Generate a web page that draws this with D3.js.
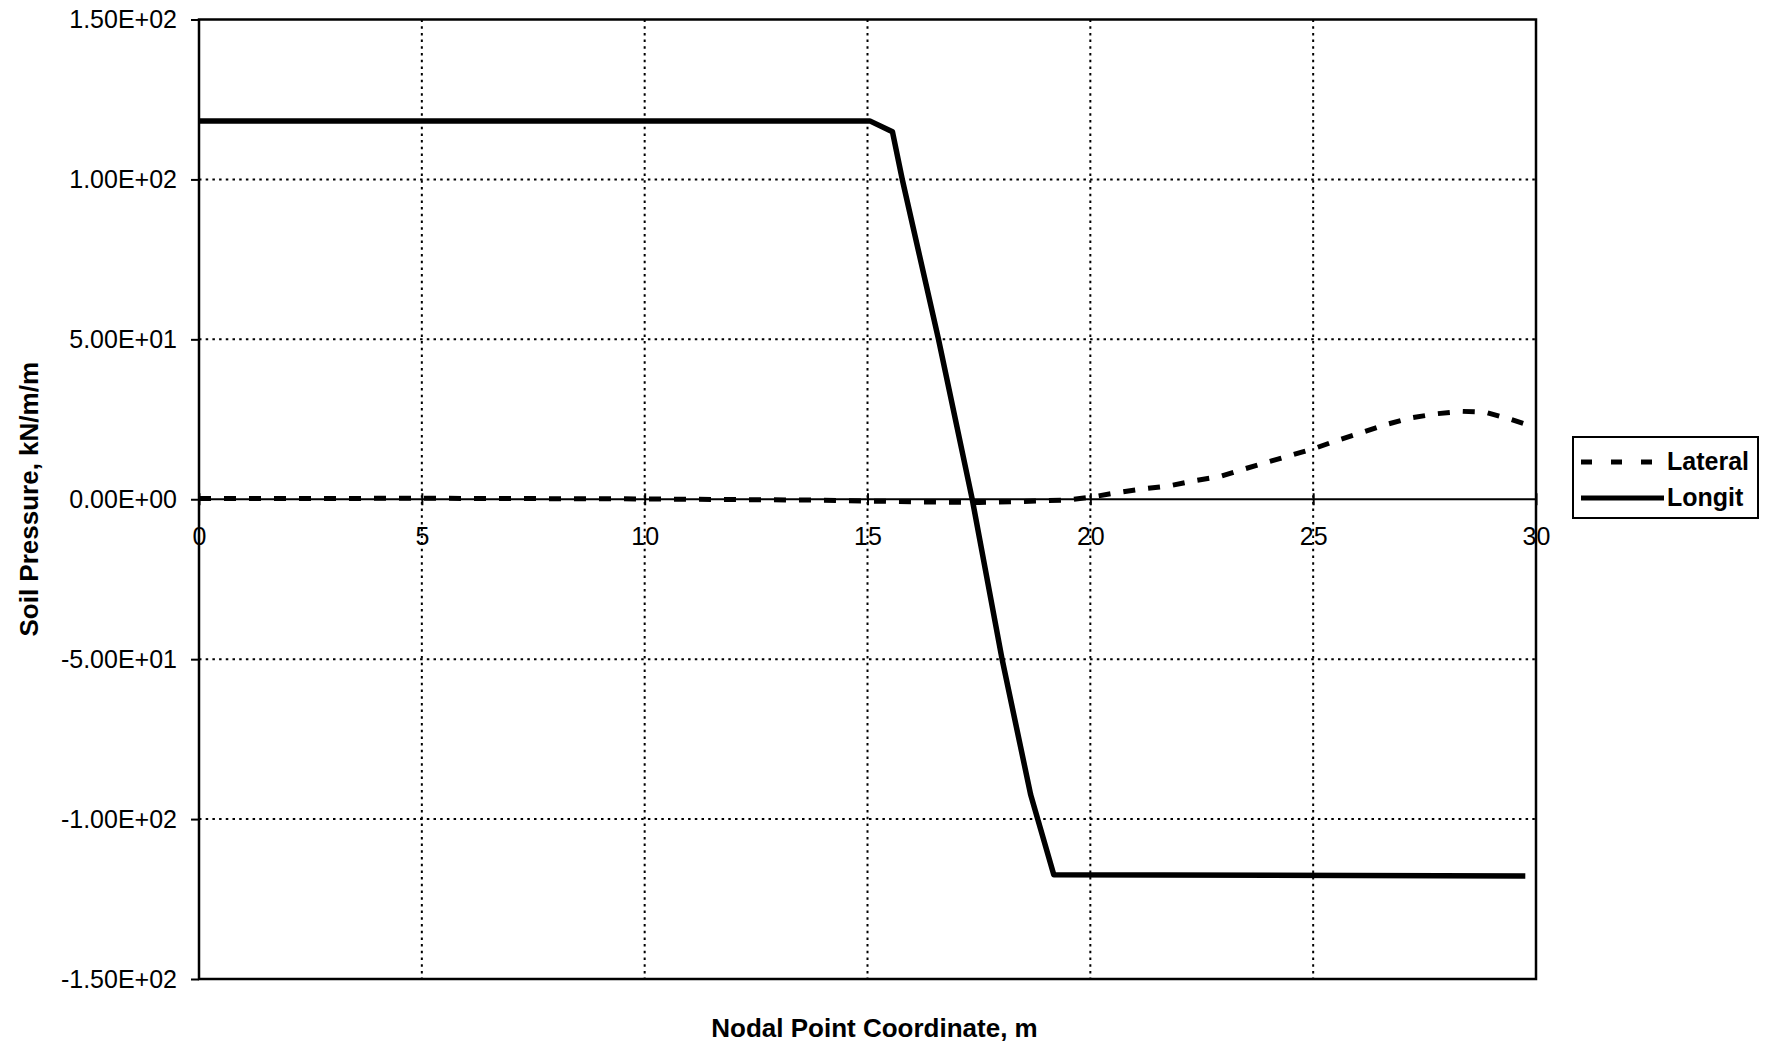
<!DOCTYPE html>
<html>
<head>
<meta charset="utf-8">
<script src="https://cdn.jsdelivr.net/npm/d3@7"></script>
<style>
  body { margin: 0; background: #fff; }
  svg { display: block; font-family: "Liberation Sans", Arial, sans-serif; }
  .grid line { stroke: #000; stroke-width: 2; stroke-dasharray: 2.5 4.2; }
</style>
</head>
<body>
<svg id="chart"></svg>
<script>
// values
const longitX = [0, 15.05, 15.56, 15.78, 16.59, 17.35, 18.02, 18.66, 19.18, 29.76];
const longitY = [118.3, 118.3, 114.9, 100, 50.2, 0, -50, -92.3, -117.4, -117.8];

const lateralX = [0, 5, 10, 14, 16, 17.5, 18.5, 19.5, 20, 20.53, 21.16, 21.78, 22.34, 22.9,
  23.46, 24.0, 24.54, 25.05, 25.56, 26.1, 26.62, 27.18, 27.75, 28.31, 28.87, 29.45, 29.76];
const lateralY = [0.2, 0.3, 0.1, -0.3, -0.8, -1.0, -0.7, -0.2, 0.6, 1.9, 3.2, 4.2, 5.8, 7.1,
  9.5, 11.7, 13.9, 16.0, 18.5, 20.9, 23.3, 25.4, 26.7, 27.5, 27.2, 24.9, 23.5];

const xTicks = [0, 5, 10, 15, 20, 25, 30];
const yTicks = [-150, -100, -50, 0, 50, 100, 150];
const seriesNames = ["Lateral", "Longit"];

const width = 1768, height = 1046;
const svg = d3.select("#chart").attr("width", width).attr("height", height);

const x = d3.scaleLinear().domain([0, 30]).range([199, 1536]);
const y = d3.scaleLinear().domain([-150, 150]).range([979, 19.5]);

// 1.50E+02 style labels
function sci(v) {
  if (v === 0) return "0.00E+00";
  const e = Math.floor(Math.log10(Math.abs(v)));
  const m = v / Math.pow(10, e);
  const es = (e < 0 ? "-" : "+") + String(Math.abs(e)).padStart(2, "0");
  return m.toFixed(2) + "E" + es;
}

// gridlines
const grid = svg.append("g").attr("class", "grid");
grid.selectAll("line.v")
  .data(xTicks.filter(d => d > 0 && d < 30))
  .join("line")
  .attr("x1", d => x(d)).attr("x2", d => x(d))
  .attr("y1", y(150)).attr("y2", y(-150));
grid.selectAll("line.h")
  .data(yTicks.filter(d => d !== 0 && Math.abs(d) < 150))
  .join("line")
  .attr("x1", x(0)).attr("x2", x(30))
  .attr("y1", d => y(d)).attr("y2", d => y(d));

// y axis
const yAxis = svg.append("g")
  .attr("transform", `translate(${x(0)},0)`)
  .call(d3.axisLeft(y).tickValues(yTicks).tickFormat(sci).tickSize(8).tickPadding(14));
yAxis.select(".domain").remove();
yAxis.selectAll("line").attr("stroke", "#000").attr("stroke-width", 2);
yAxis.selectAll("text").attr("font-size", 25).attr("fill", "#000")
  .attr("font-family", "Liberation Sans, Arial, sans-serif");

// x axis through zero
const xAxis = svg.append("g")
  .attr("transform", `translate(0,${y(0)})`)
  .call(d3.axisBottom(x).tickValues(xTicks).tickSize(6).tickPadding(22));
xAxis.select(".domain").remove();
xAxis.selectAll("line").attr("stroke", "#000").attr("stroke-width", 2).attr("y1", -6);
xAxis.selectAll("text").attr("font-size", 25).attr("fill", "#000")
  .attr("font-family", "Liberation Sans, Arial, sans-serif");

svg.append("line")
  .attr("x1", x(0)).attr("x2", x(30))
  .attr("y1", y(0)).attr("y2", y(0))
  .attr("stroke", "#000").attr("stroke-width", 2);

// plot frame
svg.append("rect")
  .attr("x", x(0)).attr("y", y(150))
  .attr("width", x(30) - x(0)).attr("height", y(-150) - y(150))
  .attr("fill", "none").attr("stroke", "#000").attr("stroke-width", 2.5);

// series
const line = d3.line().x(d => x(d[0])).y(d => y(d[1]));

svg.append("path")
  .datum(lateralX.map((v, i) => [v, lateralY[i]]))
  .attr("d", line)
  .attr("fill", "none").attr("stroke", "#000")
  .attr("stroke-width", 5).attr("stroke-dasharray", "12 13");

svg.append("path")
  .datum(longitX.map((v, i) => [v, longitY[i]]))
  .attr("d", line)
  .attr("fill", "none").attr("stroke", "#000")
  .attr("stroke-width", 5.5).attr("stroke-linejoin", "round");

// axis titles
svg.append("text")
  .attr("x", (x(0) + x(30)) / 2 + 7).attr("y", 1037)
  .attr("text-anchor", "middle")
  .attr("font-size", 26).attr("font-weight", "bold")
  .text("Nodal Point Coordinate, m");

svg.append("text")
  .attr("transform", `translate(38,${y(0)}) rotate(-90)`)
  .attr("text-anchor", "middle")
  .attr("font-size", 26).attr("font-weight", "bold")
  .text("Soil Pressure, kN/m/m");

// legend
const legend = svg.append("g");
legend.append("rect")
  .attr("x", 1573).attr("y", 437).attr("width", 185).attr("height", 81)
  .attr("fill", "#fff").attr("stroke", "#000").attr("stroke-width", 2);

const items = legend.selectAll("g.item")
  .data(seriesNames)
  .join("g")
  .attr("transform", (d, i) => `translate(0,${462 + i * 36})`);

items.append("line")
  .attr("x1", 1581).attr("x2", 1664)
  .attr("stroke", "#000")
  .attr("stroke-width", 5)
  .attr("stroke-dasharray", d => d === "Lateral" ? "11 19" : null);

items.append("text")
  .attr("x", 1667).attr("y", 8)
  .attr("font-size", 25).attr("font-weight", "bold")
  .text(d => d);
</script>
</body>
</html>
